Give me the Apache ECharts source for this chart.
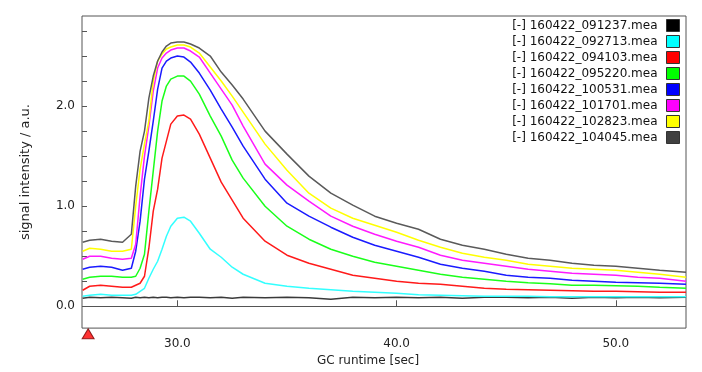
<!DOCTYPE html>
<html>
<head>
<meta charset="utf-8">
<script src="https://cdn.jsdelivr.net/npm/echarts@6/dist/echarts.min.js"></script>
<style>
html,body{margin:0;padding:0;background:#fff;}
#chart{width:702px;height:372px;}
</style>
</head>
<body>
<div id="chart"></div>
<script>
// GC runtime [sec] sample positions
const runtime = [25.68, 26, 26.5, 27, 27.5, 27.9, 28.1, 28.3, 28.5, 28.7, 28.9, 29.1, 29.3, 29.5, 29.7, 30.0, 30.3, 30.6, 31, 31.5, 32, 32.5, 33, 34, 35, 36, 37, 38, 39, 40, 41, 42, 43, 44, 45, 46, 47, 48, 49, 50, 51, 52, 53.2];

const seriesNames = ['160422_091237.mea','160422_092713.mea','160422_094103.mea','160422_095220.mea','160422_100531.mea','160422_101701.mea','160422_102823.mea','160422_104045.mea'];
const legendColors = ['#000000','#00ffff','#ff0000','#00ff00','#0000ff','#ff00ff','#ffff00','#404040'];
const lineColors = ['#3a3a3a','#33ffff','#ff1a1a','#1aff1a','#1a1aff','#ff1aff','#ffff00','#5a5a5a'];

const s091237 = [0.08, 0.09, 0.085, 0.09, 0.085, 0.08, 0.09, 0.085, 0.09, 0.085, 0.09, 0.085, 0.09, 0.09, 0.085, 0.09, 0.085, 0.09, 0.09, 0.085, 0.09, 0.08, 0.09, 0.085, 0.09, 0.085, 0.07, 0.09, 0.085, 0.09, 0.085, 0.09, 0.08, 0.09, 0.09, 0.085, 0.09, 0.08, 0.09, 0.085, 0.09, 0.085, 0.09];
const s092713 = [0.10, 0.11, 0.12, 0.11, 0.11, 0.11, 0.12, 0.15, 0.18, 0.28, 0.37, 0.45, 0.57, 0.70, 0.80, 0.88, 0.89, 0.85, 0.73, 0.57, 0.49, 0.39, 0.32, 0.23, 0.20, 0.18, 0.165, 0.15, 0.14, 0.13, 0.115, 0.11, 0.105, 0.10, 0.10, 0.10, 0.095, 0.095, 0.095, 0.095, 0.095, 0.095, 0.095];
const s094103 = [0.16, 0.20, 0.21, 0.20, 0.19, 0.19, 0.21, 0.23, 0.30, 0.58, 0.95, 1.17, 1.48, 1.65, 1.82, 1.90, 1.91, 1.87, 1.72, 1.48, 1.24, 1.06, 0.88, 0.65, 0.51, 0.43, 0.37, 0.31, 0.28, 0.25, 0.23, 0.22, 0.20, 0.18, 0.17, 0.165, 0.16, 0.155, 0.15, 0.15, 0.145, 0.14, 0.14];
const s095220 = [0.27, 0.29, 0.30, 0.30, 0.29, 0.29, 0.30, 0.38, 0.52, 0.95, 1.35, 1.75, 2.05, 2.20, 2.27, 2.30, 2.30, 2.25, 2.12, 1.90, 1.70, 1.46, 1.28, 1.00, 0.80, 0.67, 0.57, 0.50, 0.44, 0.40, 0.36, 0.32, 0.29, 0.27, 0.25, 0.235, 0.225, 0.21, 0.21, 0.205, 0.20, 0.19, 0.18];
const s100531 = [0.37, 0.39, 0.40, 0.39, 0.36, 0.38, 0.55, 0.85, 1.27, 1.55, 1.85, 2.17, 2.38, 2.45, 2.48, 2.50, 2.49, 2.44, 2.33, 2.16, 1.97, 1.79, 1.60, 1.27, 1.03, 0.90, 0.79, 0.69, 0.61, 0.55, 0.49, 0.42, 0.38, 0.35, 0.31, 0.29, 0.28, 0.26, 0.25, 0.24, 0.235, 0.23, 0.22];
const s101701 = [0.47, 0.50, 0.50, 0.48, 0.47, 0.48, 0.62, 1.10, 1.50, 1.80, 2.15, 2.38, 2.48, 2.53, 2.56, 2.58, 2.58, 2.55, 2.49, 2.33, 2.17, 2.01, 1.80, 1.42, 1.21, 1.05, 0.90, 0.80, 0.72, 0.65, 0.59, 0.51, 0.46, 0.43, 0.40, 0.37, 0.35, 0.33, 0.32, 0.31, 0.29, 0.28, 0.25];
const s102823 = [0.55, 0.58, 0.57, 0.55, 0.55, 0.57, 1.00, 1.37, 1.62, 1.85, 2.25, 2.45, 2.52, 2.57, 2.59, 2.61, 2.61, 2.59, 2.53, 2.39, 2.25, 2.10, 1.94, 1.62, 1.36, 1.13, 0.98, 0.88, 0.81, 0.74, 0.66, 0.59, 0.53, 0.49, 0.46, 0.42, 0.40, 0.38, 0.37, 0.36, 0.34, 0.32, 0.29];
const s104045 = [0.64, 0.66, 0.67, 0.65, 0.64, 0.72, 1.20, 1.55, 1.75, 2.08, 2.30, 2.45, 2.54, 2.60, 2.63, 2.64, 2.64, 2.62, 2.58, 2.50, 2.34, 2.21, 2.07, 1.75, 1.52, 1.30, 1.13, 1.01, 0.90, 0.83, 0.77, 0.67, 0.61, 0.57, 0.52, 0.48, 0.46, 0.43, 0.41, 0.40, 0.38, 0.36, 0.34];

const allValues = [s091237, s092713, s094103, s095220, s100531, s101701, s102823, s104045];

// axis ticks / labels
const xTickValues = [30, 40, 50];
const yTickValues = [0, 0.25, 0.5, 0.75, 1, 1.25, 1.5, 1.75, 2, 2.25, 2.5, 2.75];
const yLabelValues = [0, 1, 2];

// start marker (red triangle)
const markerPoint = [[25.93, -0.275]];

const chart = echarts.init(document.getElementById('chart'), null, {renderer: 'canvas'});

const series = allValues.map((vals, i) => ({
  name: seriesNames[i],
  type: 'line',
  data: runtime.map((x, j) => [x, vals[j]]),
  showSymbol: false,
  symbol: 'none',
  itemStyle: {color: legendColors[i]},
  lineStyle: {color: lineColors[i], width: 1.5},
  silent: true,
  z: 2 + i
}));

series[0].markLine = {
  silent: true,
  symbol: 'none',
  label: {show: false},
  lineStyle: {color: '#555', width: 1, type: 'solid'},
  data: [{yAxis: 0}],
  z: 1
};

series.push({
  type: 'scatter',
  name: 'marker',
  data: markerPoint,
  symbol: 'triangle',
  symbolSize: [12, 10],
  clip: false,
  silent: true,
  itemStyle: {color: '#ff0000', borderColor: '#700', borderWidth: 1},
  z: 20
});

chart.setOption({
  animation: false,
  backgroundColor: '#ffffff',
  textStyle: {fontFamily: 'DejaVu Sans'},
  grid: {left: 82, right: 16, top: 16, bottom: 42, show: true, borderColor: '#555', borderWidth: 1, backgroundColor: 'transparent'},
  legend: {
    orient: 'vertical',
    right: 17,
    top: 14,
    align: 'right',
    icon: 'rect',
    itemWidth: 13,
    itemHeight: 12,
    itemGap: 3,
    selectedMode: false,
    data: seriesNames,
    formatter: n => '[-] ' + n,
    itemStyle: {borderColor: '#333', borderWidth: 1},
    textStyle: {fontFamily: 'DejaVu Sans', fontSize: 12, color: '#111', lineHeight: 12, padding: [0, 4, 0, 0]}
  },
  xAxis: {
    type: 'value',
    min: 25.65,
    max: 53.2,
    name: 'GC runtime [sec]',
    nameLocation: 'middle',
    nameGap: 26,
    nameTextStyle: {fontFamily: 'DejaVu Sans', fontSize: 12, color: '#222', padding: [0, 32, 0, 0]},
    axisLine: {show: false},
    axisTick: {show: true, inside: true, length: 6, customValues: xTickValues, lineStyle: {color: '#555'}},
    axisLabel: {customValues: xTickValues, formatter: v => v.toFixed(1), fontFamily: 'DejaVu Sans', fontSize: 12, color: '#222', margin: 10},
    splitLine: {show: false}
  },
  yAxis: {
    type: 'value',
    min: -0.218,
    max: 2.9,
    name: 'signal intensity / a.u.',
    nameLocation: 'middle',
    nameGap: 50,
    nameTextStyle: {fontFamily: 'DejaVu Sans', fontSize: 13, color: '#222'},
    axisLine: {show: false},
    axisTick: {show: true, inside: true, length: 5, customValues: yTickValues, lineStyle: {color: '#555'}},
    axisLabel: {customValues: yLabelValues, formatter: v => v.toFixed(1), fontFamily: 'DejaVu Sans', fontSize: 12, color: '#222', margin: 7},
    splitLine: {show: false}
  },
  series: series
});
</script>
</body>
</html>
